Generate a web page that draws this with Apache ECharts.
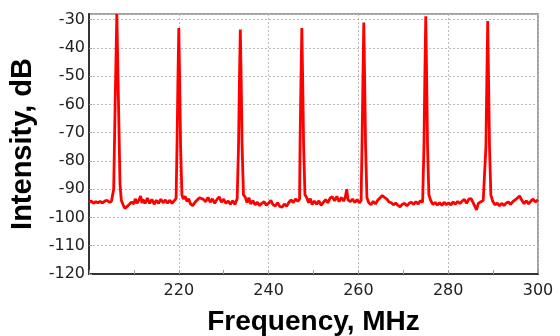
<!DOCTYPE html>
<html>
<head>
<meta charset="utf-8">
<script src="https://cdn.jsdelivr.net/npm/echarts@6/dist/echarts.min.js"></script>
<style>
  html, body { margin: 0; padding: 0; background: #fff; }
  #chart { width: 560px; height: 336px; }
</style>
</head>
<body>
<div id="chart"></div>
<script>
// frequency (MHz), intensity (dB)
const spectrum = [
  [200, -94.6], [200.5, -94.2], [201, -95.0], [201.5, -94.4], [202, -94.8], [202.5, -94.3],
  [203, -94.9], [203.5, -94.2], [204, -93.9], [204.5, -94.6], [205, -94.3],
  [205.5, -90], [205.8, -62], [206.0, -45], [206.2, -28], [206.4, -45], [206.6, -62], [206.9, -88], [207.2, -94],
  [207.6, -95.5], [208.0, -96.8], [208.3, -97.2], [208.7, -95.8], [209, -96.2], [209.5, -94.5],
  [210, -95.2], [210.3, -93.4], [210.7, -95.0], [211, -94.2], [211.5, -92.4], [211.8, -94.9], [212, -93.6], [212.5, -95.0],
  [213, -93.1], [213.5, -95.0], [214, -93.6], [214.5, -95.3], [215, -93.9], [215.5, -95.0],
  [216, -93.5], [216.5, -94.8], [217, -93.8], [217.5, -94.9], [218, -93.9], [218.5, -95.0],
  [219, -94.0], [219.4, -93.2],
  [219.6, -75], [219.8, -52], [220.0, -33], [220.2, -52], [220.4, -75], [220.7, -92],
  [221.0, -93.5], [221.4, -92.5], [221.8, -94.3], [222.2, -93.4], [222.6, -95.2], [223.1, -95.8],
  [223.6, -94.6], [224.1, -93.8], [224.6, -93.0], [225.0, -92.3], [225.5, -93.6], [226, -94.4],
  [226.5, -92.9], [227, -94.6], [227.5, -93.4], [228, -95.0], [228.5, -93.6], [229, -92.7],
  [229.5, -94.6], [230, -93.5], [230.5, -95.0], [231, -94.2], [231.5, -95.3], [232, -94.1],
  [232.5, -95.4], [233.0, -93.4],
  [233.3, -75], [233.5, -52], [233.7, -33.5], [233.9, -52], [234.1, -75], [234.4, -92],
  [234.8, -92.8], [235.2, -94.7], [235.6, -93.0], [236, -95.2], [236.5, -94.1], [237, -95.5],
  [237.5, -94.6], [238, -95.8], [238.5, -95.0], [239, -94.4], [239.5, -95.7], [240, -94.9],
  [240.5, -94.0], [241, -95.5], [241.5, -95.9], [242, -94.8], [242.5, -96.1], [243, -96.4],
  [243.5, -95.2], [244, -96.0], [244.5, -94.7], [245, -93.8], [245.5, -94.7], [246, -93.5],
  [246.5, -94.3], [246.9, -93.5],
  [247.0, -75], [247.2, -52], [247.4, -33], [247.6, -52], [247.8, -75], [248.1, -92],
  [248.5, -93.0], [248.9, -94.8], [249.3, -93.3], [249.7, -95.4], [250.2, -94.2], [250.7, -95.3],
  [251.2, -94.1], [251.7, -95.7], [252.2, -94.6], [252.7, -93.7], [253.2, -94.8], [253.7, -93.1],
  [254.2, -92.7], [254.7, -94.1], [255.2, -92.5], [255.7, -94.4], [256.2, -92.9], [256.7, -94.2],
  [257.1, -92.7], [257.4, -90.0], [257.7, -93.8], [258.2, -94.4], [258.7, -93.5], [259.2, -94.7],
  [259.7, -93.7], [260.2, -94.8], [260.6, -94.0],
  [260.8, -75], [261.0, -52], [261.2, -31], [261.4, -52], [261.6, -75], [261.9, -93],
  [262.3, -94.8], [262.8, -95.5], [263.3, -94.3], [263.8, -95.2], [264.3, -93.9], [264.8, -93.1],
  [265.3, -92.2], [265.8, -92.9], [266.3, -93.4], [266.8, -94.5], [267.3, -94.8], [267.8, -95.5],
  [268.3, -94.9], [268.8, -95.7], [269.3, -96.2], [269.8, -95.3], [270.3, -95.0], [270.8, -95.9],
  [271.3, -95.0], [271.8, -94.6], [272.3, -95.4], [272.8, -94.4], [273.3, -95.2], [273.8, -94.1],
  [274.3, -94.6],
  [274.6, -75], [274.8, -50], [275.0, -28.8], [275.2, -50], [275.4, -75], [275.7, -92],
  [276.1, -94.0], [276.6, -95.4], [277.1, -94.7], [277.6, -95.6], [278.1, -94.8], [278.6, -95.7],
  [279.1, -94.6], [279.6, -95.5], [280.1, -94.8], [280.6, -95.6], [281.1, -94.5], [281.6, -95.3],
  [282.1, -94.3], [282.6, -95.1], [283.1, -94.2], [283.6, -93.6], [284.1, -95.0], [284.6, -93.5],
  [285.1, -93.3], [285.6, -94.9], [286.0, -95.5], [286.3, -97.3], [286.7, -95.0], [287.2, -94.5],
  [287.8, -94.0], [288.1, -93.6],
  [288.4, -75], [288.6, -52], [288.8, -30.5], [289.0, -52], [289.2, -75], [289.5, -92],
  [289.9, -94.2], [290.4, -95.5], [290.9, -94.9], [291.4, -95.9], [291.9, -95.0], [292.4, -95.8],
  [292.9, -94.9], [293.4, -94.5], [293.9, -95.4], [294.4, -94.4], [294.9, -93.8], [295.4, -93.1],
  [295.9, -92.4], [296.4, -93.9], [296.9, -95.1], [297.4, -94.1], [297.9, -95.2], [298.4, -94.2],
  [298.9, -93.5], [299.4, -94.5], [300, -93.8]
];

const freqRange = [200, 300];
const dbRange = [-120, -28];

const myChart = echarts.init(document.getElementById('chart'), null, {renderer: 'canvas'});

const tickFont = 'DejaVu Sans, Verdana, sans-serif';
const titleFont = 'Liberation Sans, Arial, sans-serif';

const option = {
  animation: false,
  backgroundColor: '#fff',
  grid: {
    left: 89, right: 22, top: 14, bottom: 62,
    outerBoundsMode: 'none',
    containLabel: false,
    show: true,
    borderColor: '#a0a0a0',
    borderWidth: 2
  },
  xAxis: {
    type: 'value',
    min: freqRange[0],
    max: freqRange[1],
    interval: 20,
    name: 'Frequency, MHz',
    nameLocation: 'middle',
    nameGap: 34,
    nameTextStyle: { fontFamily: titleFont, fontWeight: 'bold', fontSize: 28, color: '#000' },
    axisLine: { show: true, lineStyle: { color: '#333', width: 2 } },
    axisTick: { show: true, inside: true, length: 4, lineStyle: { color: '#999' } },
    minorTick: { show: true, splitNumber: 2, length: 4, lineStyle: { color: '#999' } },
    axisLabel: { showMinLabel: false, fontFamily: tickFont, fontSize: 16, color: '#222', margin: 9 },
    splitLine: { show: true, lineStyle: { color: '#bbb', type: [2, 2], width: 1 } }
  },
  yAxis: {
    type: 'value',
    min: dbRange[0],
    max: dbRange[1],
    interval: 10,
    name: 'Intensity, dB',
    nameLocation: 'middle',
    nameGap: 48,
    nameTextStyle: { fontFamily: titleFont, fontWeight: 'bold', fontSize: 29, color: '#000' },
    axisLine: { show: true, lineStyle: { color: '#333', width: 2 } },
    axisTick: { show: true, inside: true, length: 3, lineStyle: { color: '#999' } },
    axisLabel: { showMaxLabel: false, fontFamily: tickFont, fontSize: 16, color: '#222', margin: 4 },
    splitLine: { show: true, lineStyle: { color: '#bbb', type: [2, 2], width: 1 } }
  },
  series: [{
    type: 'line',
    data: spectrum,
    showSymbol: false,
    lineStyle: { color: '#ff0000', width: 2.8 },
    clip: true
  }]
};

option && myChart.setOption(option);
</script>
</body>
</html>
